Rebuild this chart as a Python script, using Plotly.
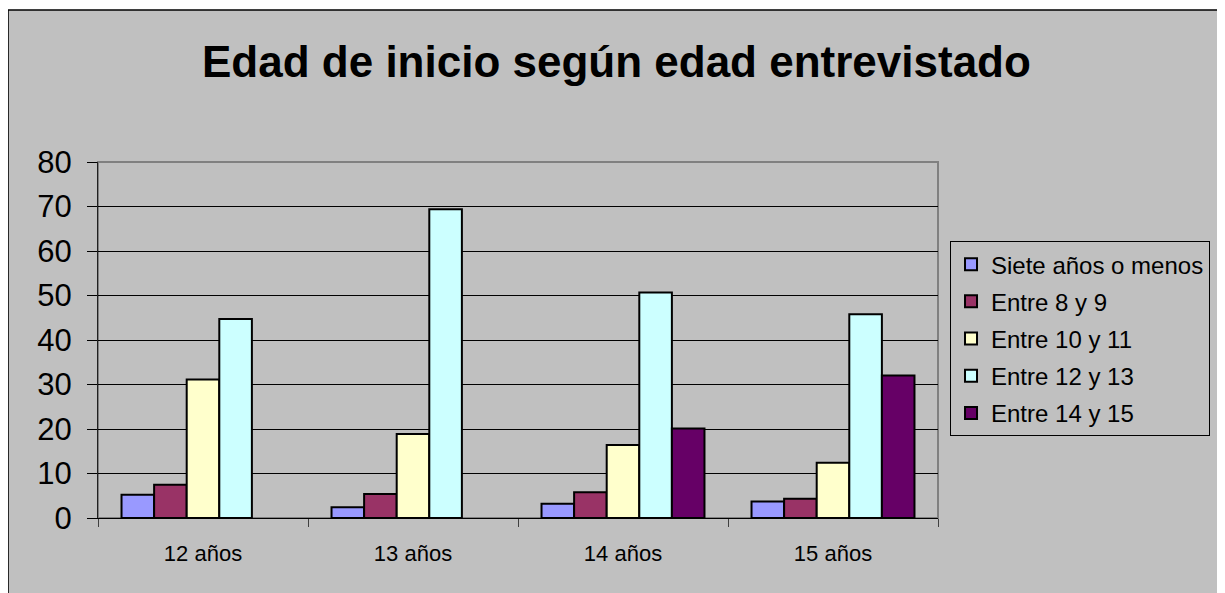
import plotly.graph_objects as go

# Datos
categorias = ['12 años', '13 años', '14 años', '15 años']
siete_o_menos = [5.2, 2.4, 3.2, 3.7]
entre_8_9 = [7.5, 5.4, 5.8, 4.3]
entre_10_11 = [31.1, 18.9, 16.4, 12.4]
entre_12_13 = [44.7, 69.4, 50.7, 45.8]
entre_14_15 = [None, None, 20.1, 32.0]

series = [
    ('Siete años o menos', siete_o_menos, '#9999FF'),
    ('Entre 8 y 9', entre_8_9, '#993366'),
    ('Entre 10 y 11', entre_10_11, '#FFFFCC'),
    ('Entre 12 y 13', entre_12_13, '#CCFFFF'),
    ('Entre 14 y 15', entre_14_15, '#660066'),
]

FONT = 'Arial, Liberation Sans, sans-serif'

fig = go.Figure()

for i, (nombre, valores, color) in enumerate(series):
    fig.add_trace(go.Bar(
        name=nombre,
        x=categorias,
        y=valores,
        marker=dict(color=color, line=dict(color='black', width=2)),
        legendgroup=str(i)
    ))

# Fondo gris del area del grafico con borde negro
fig.add_shape(
    type='rect', xref='paper', yref='paper',
    x0=-0.1071, x1=1.5, y0=-0.4, y1=1.427,
    fillcolor='#C0C0C0', line=dict(color='black', width=1.5),
    layer='below'
)
# Borde gris del area de trazado
fig.add_shape(
    type='rect', xref='paper', yref='paper',
    x0=0, x1=1, y0=0, y1=1,
    line=dict(color='#808080', width=2),
    layer='below'
)

fig.update_layout(
    width=1225,
    height=593,
    margin=dict(l=90, r=295, t=154, b=83),
    paper_bgcolor='white',
    plot_bgcolor='rgba(0,0,0,0)',
    font=dict(family=FONT, color='black'),
    title=dict(
        text='Edad de inicio según edad entrevistado',
        font=dict(size=44, weight='bold', family=FONT),
        xref='container', x=0.4967, xanchor='center',
        yref='container', y=0.9096, yanchor='middle'
    ),
    barmode='group',
    bargap=0.224,
    bargroupgap=0,
    legend=dict(
        x=1.0143, y=0.778, xanchor='left', yanchor='top',
        bgcolor='#C0C0C0', bordercolor='black', borderwidth=1,
        font=dict(size=24, family=FONT),
        tracegroupgap=3
    )
)

fig.update_xaxes(
    showline=True, linecolor='black', linewidth=1,
    ticks='outside', tickson='boundaries', ticklen=8, tickcolor='#404040',
    tickfont=dict(size=22), ticklabelstandoff=16,
    showgrid=False
)
fig.update_yaxes(
    range=[0, 80], dtick=10,
    showline=True, linecolor='#202020', linewidth=1,
    ticks='outside', ticklen=10, tickcolor='black',
    tickfont=dict(size=31), ticklabelstandoff=9,
    showgrid=True, gridcolor='black', gridwidth=1,
    zeroline=False
)

fig.write_html('out.html')
